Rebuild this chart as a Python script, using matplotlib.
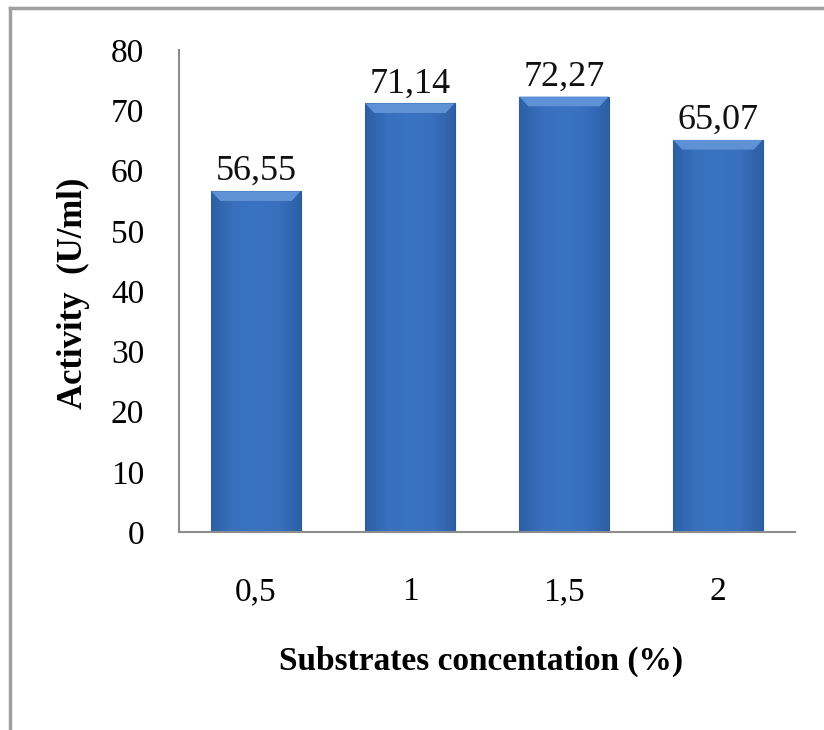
import numpy as np
import matplotlib
matplotlib.use("Agg")
import matplotlib.pyplot as plt
from matplotlib.lines import Line2D
from matplotlib.patches import Polygon
from matplotlib.colors import LinearSegmentedColormap

plt.rcParams['font.family'] = ['Liberation Serif', 'DejaVu Serif']

# data
concentrations = ["0,5", "1", "1,5", "2"]
activity = [56.55, 71.14, 72.27, 65.07]
value_labels = ["56,55", "71,14", "72,27", "65,07"]
y_ticks = [0, 10, 20, 30, 40, 50, 60, 70, 80]

fig = plt.figure(figsize=(8.24, 7.3), dpi=100)
ax = fig.add_axes([0.2172, 0.2712, 0.7476, 0.6603])

x = np.arange(len(concentrations))
bars = ax.bar(x, activity, width=0.58, color="#3A71BE", edgecolor="#2B5A98", linewidth=0.8, zorder=2)

# horizontal shading on each bar, lighter bevel on top
shade = LinearSegmentedColormap.from_list("shade", ["#2C5FA5", "#3870BD", "#3A73C1", "#3870BD", "#2C5FA5"])
grad = np.linspace(0, 1, 256).reshape(1, -1)
for b in bars:
    x0, w, h = b.get_x(), b.get_width(), b.get_height()
    im = ax.imshow(grad, extent=[x0, x0 + w, 0, h], aspect="auto", cmap=shade, zorder=2.5)
    im.set_clip_path(b)
    bev_x = w * 0.1
    bev_y = 1.6
    top = Polygon([[x0, h], [x0 + w, h], [x0 + w - bev_x, h - bev_y], [x0 + bev_x, h - bev_y]],
                  closed=True, facecolor="#5F91D6", edgecolor="none", zorder=3)
    ax.add_patch(top)

for b, lab in zip(bars, value_labels):
    ax.annotate(lab, (b.get_x() + b.get_width() / 2, b.get_height()), xytext=(0, 8),
                textcoords="offset points", ha="center", va="baseline", fontsize=26, color="#111111")

ax.set_xlim(-0.5, len(concentrations) - 0.5)
ax.set_ylim(0, 80)
ax.set_xticks(x)
ax.set_xticklabels(concentrations)
ax.set_yticks(y_ticks)
ax.tick_params(axis="x", length=0, pad=32, labelsize=24)
ax.tick_params(axis="y", length=0, pad=25, labelsize=24)

for s in ["top", "right"]:
    ax.spines[s].set_visible(False)
for s in ["left", "bottom"]:
    ax.spines[s].set_color("#8C8C8C")
    ax.spines[s].set_linewidth(1.5)

ax.set_xlabel("Substrates concentation (%)", fontsize=24, fontweight="bold")
ax.xaxis.set_label_coords(0.49, -0.236)
ax.set_ylabel("Activity  (U/ml)", fontsize=25, fontweight="bold")
ax.yaxis.set_label_coords(-0.145, 0.496)

# outer frame (only left and top edges fall inside the picture)
fig.add_artist(Line2D([0.0118, 0.0118], [0.0, 0.989], transform=fig.transFigure, color="#A0A0A0", lw=2.5))
fig.add_artist(Line2D([0.0118, 1.0], [0.989, 0.989], transform=fig.transFigure, color="#A0A0A0", lw=2.5))

fig.savefig("out.png", dpi=100)
